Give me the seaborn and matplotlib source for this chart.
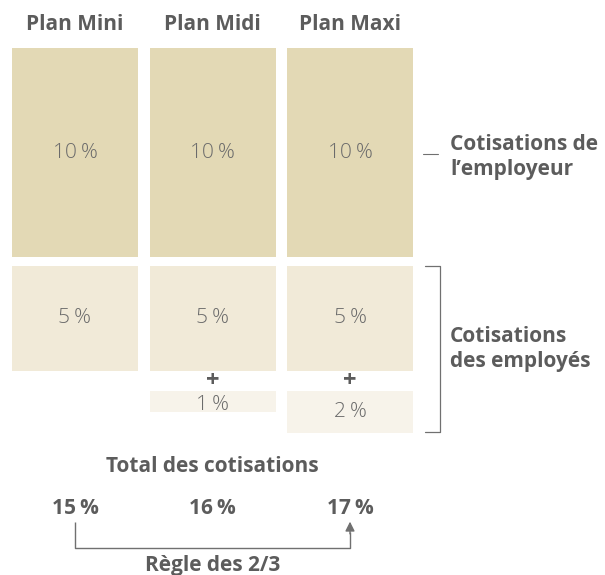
#Recreate the employer / employee contribution chart
import matplotlib
matplotlib.use("Agg")
import matplotlib.pyplot as plt
import seaborn as sns
import pandas as pd

#data
plans = ['Plan Mini', 'Plan Midi', 'Plan Maxi']
employer = [10, 10, 10]
employee_base = [5, 5, 5]
employee_extra = [0, 1, 2]
totals = ['15\u2009%', '16\u2009%', '17\u2009%']
label_employer = "Cotisations de\nl\u2019employeur"
label_employee = "Cotisations\ndes employés"
label_total = "Total des cotisations"
label_rule = "Règle des 2/3"

#colours
c_top = '#e3d9b5'
c_mid = '#f1ead8'
c_low = '#f7f3ea'
c_text = '#5c5c5c'
c_num = '#6b6b6b'
c_line = '#707070'

W, H = 605, 575
sns.set_theme(style='white')
plt.rcParams['font.family'] = ['Open Sans', 'DejaVu Sans']
fs = 15

fig = plt.figure(figsize=(W / 100, H / 100), dpi=100)
ax = fig.add_axes([0, 0, 1, 1])

#layout in pixels -> data units (1 % = 20.9 px, column pitch = 137.5 px)
unit = 20.9
pitch = 137.5
x0, y0 = 75, 48
bar_w = 126 / pitch
gap = 9 / unit
plus_gap = 20.5 / unit

df = pd.DataFrame({'plan': plans, 'employer': employer,
                   'base': employee_base, 'extra': employee_extra})

#top layer through seaborn
sns.barplot(data=df, x='plan', y='employer', color=c_top, saturation=1,
            width=bar_w, ax=ax, linewidth=0)
ax.set_xlim(-x0 / pitch, (W - x0) / pitch)
ax.set_ylim((H - y0) / unit, -y0 / unit)

xs = list(range(len(plans)))
mid_bottom = [e + gap for e in employer]
ax.bar(xs, employee_base, bottom=mid_bottom, width=bar_w, color=c_mid, linewidth=0)
low_bottom = [m + b + plus_gap for m, b in zip(mid_bottom, employee_base)]
ax.bar(xs, employee_extra, bottom=low_bottom, width=bar_w, color=c_low, linewidth=0)

#labels inside blocks and headers
for i in xs:
    ax.text(i, employer[i] / 2, f'{employer[i]}\u2009%', ha='center', va='center',
            fontsize=fs, color=c_num, fontweight='light', zorder=5)
    ax.text(i, mid_bottom[i] + employee_base[i] / 2, f'{employee_base[i]}\u2009%',
            ha='center', va='center', fontsize=fs, color=c_num, fontweight='light', zorder=5)
    if employee_extra[i] > 0:
        ax.text(i, low_bottom[i] - plus_gap / 2, '+', ha='center', va='center',
                fontsize=fs + 2, color=c_text, fontweight='bold', zorder=5)
        ax.text(i, low_bottom[i] + max(employee_extra[i], 1.3) / 2, f'{employee_extra[i]}\u2009%',
                ha='center', va='center', fontsize=fs, color=c_num, fontweight='light', zorder=5)
    ax.text(i, -24 / unit, plans[i], ha='center', va='center',
            fontsize=fs, color=c_text, fontweight='bold')

#totals under each column
for i, t in zip(xs, totals):
    ax.text(i, (508 - y0) / unit, t, ha='center', va='center', fontsize=fs,
            color=c_text, fontweight='bold')
ax.text(1, (466 - y0) / unit, label_total, ha='center', va='center', fontsize=fs,
        color=c_text, fontweight='bold')
ax.text(1, (565 - y0) / unit, label_rule, ha='center', va='center', fontsize=fs,
        color=c_text, fontweight='bold')

#2/3 rule connector from first to last total
y_top = (522 - y0) / unit
y_low = (548 - y0) / unit
ax.plot([xs[0], xs[0], xs[-1], xs[-1]], [y_top, y_low, y_low, y_top + 0.5],
        color=c_line, lw=1.0, solid_capstyle='butt')
ax.annotate('', xy=(xs[-1], y_top - 0.15), xytext=(xs[-1], y_top + 0.7),
            arrowprops=dict(arrowstyle='-|>', color=c_line, lw=1.0, mutation_scale=14))

ax.set_axis_off()

def fx(x):
    return x / W

def fy(y):
    return 1 - y / H

#right side labels
fig.text(fx(450), fy(157), label_employer, ha='left', va='center', fontsize=fs,
         color=c_text, fontweight='bold', linespacing=1.3)
fig.text(fx(450), fy(349), label_employee, ha='left', va='center', fontsize=fs,
         color=c_text, fontweight='bold', linespacing=1.3)
fig.add_artist(plt.Line2D([fx(423), fx(438)], [fy(154), fy(154)], color=c_line, lw=0.8))
fig.add_artist(plt.Line2D([fx(425), fx(440), fx(440), fx(425)],
                          [fy(266), fy(266), fy(432), fy(432)], color=c_line, lw=0.9))

fig.savefig('out.png', dpi=100)
